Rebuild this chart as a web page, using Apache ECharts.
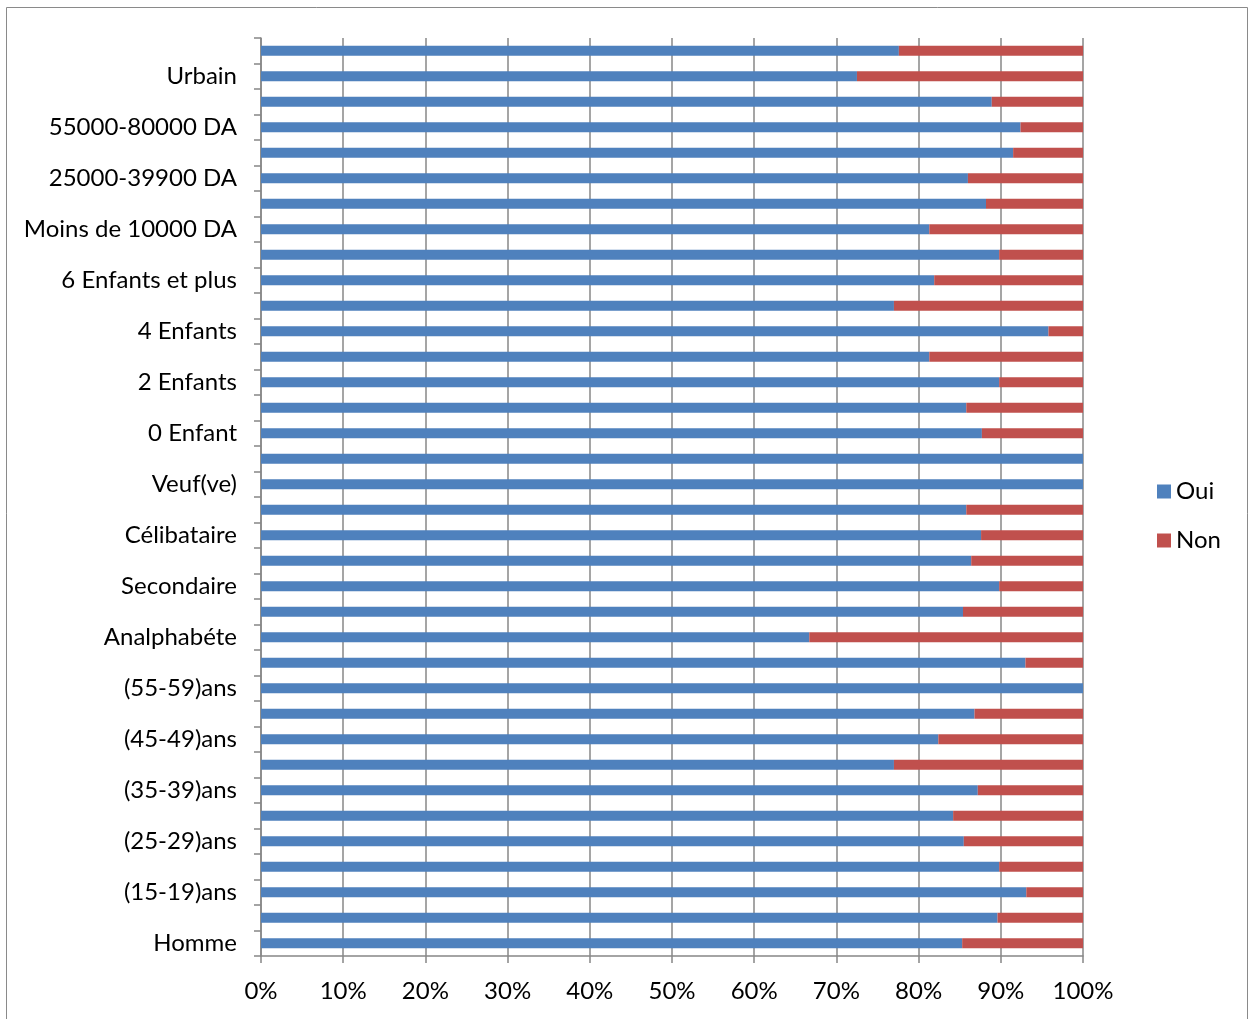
<!DOCTYPE html>
<html>
<head>
<meta charset="utf-8">
<script src="https://cdn.jsdelivr.net/npm/echarts@6/dist/echarts.min.js"></script>
<style>
html,body{margin:0;padding:0;background:#fff;}
#c{width:1249px;height:1019px;}
</style>
</head>
<body>
<div id="c"></div>
<script>
const categories = [
  'Homme','Femme','(15-19)ans','(20-24)ans','(25-29)ans','(30-34)ans','(35-39)ans','(40-44)ans',
  '(45-49)ans','(50-54)ans','(55-59)ans','60 ans et plus','Analphabéte','Primaire','Secondaire','Universitaire',
  'Célibataire','Marié(e)','Veuf(ve)','Divorcé(e)','0 Enfant','1 Enfant','2 Enfants','3 Enfants',
  '4 Enfants','5 Enfants','6 Enfants et plus','Sans revenu','Moins de 10000 DA','10000-24900 DA','25000-39900 DA','40000-54900 DA',
  '55000-80000 DA','Plus de 80000 DA','Urbain','Rural'
];
const oui = [
  85.3, 89.6, 93.1, 89.8, 85.5, 84.2, 87.2, 77.0,
  82.4, 86.8, 100, 93.0, 66.7, 85.4, 89.8, 86.4,
  87.6, 85.8, 100, 100, 87.7, 85.8, 89.8, 81.3,
  95.8, 77.0, 81.9, 89.8, 81.3, 88.2, 86.0, 91.5,
  92.4, 88.9, 72.5, 77.6
];
const non = [
  14.7, 10.4, 6.9, 10.2, 14.5, 15.8, 12.8, 23.0,
  17.6, 13.2, 0, 7.0, 33.3, 14.6, 10.2, 13.6,
  12.4, 14.2, 0, 0, 12.3, 14.2, 10.2, 18.7,
  4.2, 23.0, 18.1, 10.2, 18.7, 11.8, 14.0, 8.5,
  7.6, 11.1, 27.5, 22.4
];
const xTicks = [0, 10, 20, 30, 40, 50, 60, 70, 80, 90, 100];

const FONT = 'Lato';
const chart = echarts.init(document.getElementById('c'), null, {renderer: 'canvas'});
chart.setOption({
  animation: false,
  backgroundColor: '#fff',
  graphic: [{
    type: 'rect',
    shape: {x: 6.5, y: 7.5, width: 1241, height: 1040},
    style: {fill: 'none', stroke: '#8a8a8a', lineWidth: 1},
    silent: true, z: -10
  }],
  grid: {left: 261, right: 166, top: 38, bottom: 63, containLabel: false},
  legend: {
    orient: 'vertical',
    left: 1152, top: 474,
    itemWidth: 14, itemHeight: 14, itemGap: 24,
    icon: 'rect',
    textStyle: {fontFamily: FONT, fontSize: 24, color: '#000', lineHeight: 25, padding: [0, 0, 0, 0]},
    data: ['Oui', 'Non']
  },
  xAxis: {
    type: 'value',
    min: xTicks[0], max: xTicks[xTicks.length - 1], interval: 10,
    axisLine: {show: true, lineStyle: {color: '#878787', width: 1.5}},
    axisTick: {show: true, length: 7, lineStyle: {color: '#878787', width: 1.5}},
    axisLabel: {formatter: '{value}%', fontFamily: FONT, fontSize: 24, color: '#000', margin: 23},
    splitLine: {show: true, lineStyle: {color: '#878787', width: 1.5}}
  },
  yAxis: {
    type: 'category',
    data: categories,
    axisLine: {show: true, lineStyle: {color: '#878787', width: 1.5}},
    axisTick: {show: true, length: 7, interval: 0, lineStyle: {color: '#878787', width: 1.5}},
    axisLabel: {interval: 1, fontFamily: FONT, fontSize: 24, color: '#000', margin: 24},
    splitLine: {show: false}
  },
  series: [
    {name: 'Oui', type: 'bar', stack: 't', data: oui, barWidth: 10,
     itemStyle: {color: '#4F81BD'}},
    {name: 'Non', type: 'bar', stack: 't', data: non, barWidth: 10,
     itemStyle: {color: '#C0504D'}}
  ]
});
</script>
</body>
</html>
